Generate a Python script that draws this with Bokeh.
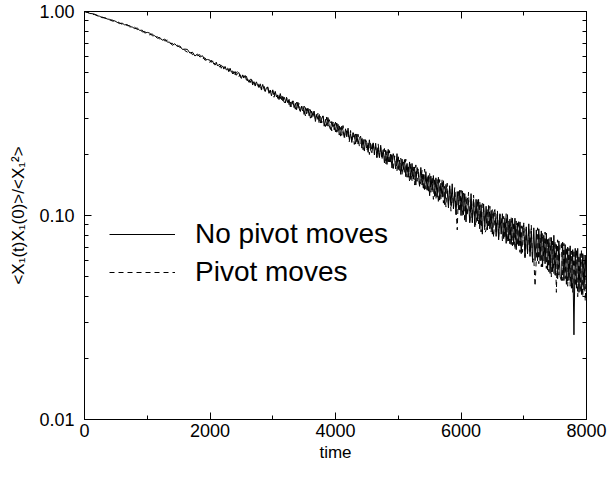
from bokeh.plotting import figure
from bokeh.models import Range1d, FixedTicker, LogAxis, LinearAxis, PrintfTickFormatter
from bokeh.embed import file_html
from bokeh.resources import INLINE

# sampling grid of the time axis: every 40 up to 2000, every 20 after
times = list(range(0, 2000, 40)) + list(range(2000, 8001, 20))

corr_no_pivot = [
    # 0 - 1960 (step 40)
    1.000, .994, .978, .976, .970, .953, .948, .933, .934, .919,
    .915, .898, .901, .885, .872, .877, .860, .863, .841, .840,
    .824, .830, .808, .810, .784, .790, .784, .760, .761, .740,
    .746, .723, .733, .708, .707, .683, .695, .673, .678, .652,
    .654, .652, .625, .632, .605, .619, .598, .607, .577, .582,
    # 2000 - 8000 (step 20)
    .577, .563, .573, .553, .555, .564, .541, .549, .550, .527, .541, .529, .538, .517, .523, .507, .527, .505, .511, .495,
    .508, .487, .497, .502, .480, .470, .488, .473, .486, .461, .467, .450, .465, .465, .436, .453, .437, .452, .433, .424,
    .442, .418, .439, .417, .405, .423, .425, .397, .410, .386, .409, .390, .406, .381, .390, .370, .396, .370, .383, .359,
    .358, .380, .357, .371, .341, .359, .365, .338, .355, .330, .359, .334, .324, .344, .338, .313, .338, .315, .336, .308,
    .330, .302, .318, .325, .289, .313, .296, .313, .284, .300, .308, .274, .296, .276, .302, .275, .264, .289, .271, .282,
    .257, .284, .258, .275, .245, .274, .261, .241, .266, .243, .268, .236, .252, .228, .255, .248, .224, .251, .224, .239,
    .245, .214, .236, .207, .235, .227, .204, .235, .209, .203, .227, .202, .226, .193, .214, .192, .221, .195, .210, .181,
    .209, .178, .211, .183, .200, .171, .201, .191, .169, .201, .168, .187, .159, .189, .168, .188, .155, .180, .154, .183,
    .150, .180, .151, .173, .141, .172, .160, .139, .172, .141, .159, .134, .164, .133, .157, .125, .156, .133, .157, .124,
    .153, .123, .154, .119, .144, .123, .148, .113, .142, .133, .109, .140, .112, .143, .108, .130, .101, .131, .107, .133,
    .100, .132, .101, .128, .093, .122, .117, .092, .128, .093, .120, .088, .120, .094, .120, .086, .113, .081, .114, .088,
    .111, .085, .112, .086, .106, .081, .103, .107, .079, .102, .076, .102, .081, .102, .077, .097, .073, .101, .075, .096,
    .072, .097, .072, .097, .068, .092, .071, .093, .065, .088, .090, .062, .088, .065, .091, .063, .084, .060, .087, .060,
    .085, .060, .086, .060, .084, .056, .080, .058, .082, .054, .077, .052, .078, .053, .080, .051, .072, .049, .075, .050,
    .048, .074, .048, .072, .046, .070, .048, .071, .044, .068, .026, .069, .044, .069, .042, .065, .041, .065, .043, .064,
    .043,
]

corr_pivot = [
    # 0 - 1960 (step 40)
    1.000, .989, .986, .971, .966, .960, .943, .940, .927, .926,
    .908, .909, .893, .893, .880, .865, .867, .853, .853, .834,
    .837, .816, .820, .794, .798, .782, .768, .777, .752, .754,
    .731, .738, .716, .725, .696, .699, .675, .685, .665, .668,
    .643, .632, .642, .614, .627, .607, .614, .587, .593, .566,
    # 2000 - 8000 (step 20)
    .564, .577, .561, .568, .546, .558, .562, .540, .534, .543, .549, .522, .534, .521, .532, .510, .517, .520, .494, .511,
    .489, .503, .506, .481, .490, .469, .489, .471, .480, .484, .453, .465, .448, .471, .444, .457, .431, .446, .449, .426,
    .439, .412, .430, .433, .408, .411, .427, .395, .412, .394, .413, .380, .398, .401, .375, .392, .374, .392, .360, .381,
    .355, .373, .379, .349, .363, .338, .364, .357, .332, .359, .333, .357, .323, .340, .321, .344, .308, .334, .315, .332,
    .300, .325, .303, .326, .294, .310, .317, .281, .307, .284, .307, .284, .273, .304, .274, .295, .284, .260, .287, .263,
    .287, .256, .280, .248, .270, .247, .276, .246, .239, .264, .256, .230, .261, .235, .253, .223, .251, .230, .250, .218,
    .218, .244, .210, .235, .236, .207, .229, .199, .230, .207, .230, .198, .217, .192, .225, .194, .215, .187, .207, .213,
    .178, .206, .179, .208, .181, .203, .166, .196, .189, .166, .198, .165, .191, .158, .183, .160, .189, .154, .177, .147,
    .180, .148, .173, .141, .177, .147, .170, .138, .147, .167, .133, .169, .135, .157, .129, .161, .130, .155, .120, .151,
    .120, .150, .115, .150, .121, .151, .115, .139, .110, .144, .113, .140, .105, .135, .108, .137, .108, .085, .131, .104,
    .133, .100, .129, .093, .125, .100, .130, .092, .120, .092, .126, .093, .089, .121, .091, .117, .083, .115, .109, .082,
    .085, .108, .087, .111, .083, .107, .078, .103, .083, .106, .078, .100, .101, .075, .099, .077, .102, .074, .094, .071,
    .098, .071, .093, .068, .094, .071, .095, .066, .089, .066, .092, .063, .086, .065, .087, .065, .090, .059, .062, .045,
    .061, .087, .058, .081, .056, .082, .060, .083, .055, .077, .053, .078, .050, .075, .052, .075, .042, .076, .051, .074,
    .073, .048, .073, .049, .070, .045, .069, .045, .067, .042, .068, .045, .068, .040, .064, .042, .068, .040, .064, .038,
    .058,
]

x_major = [0, 2000, 4000, 6000, 8000]
x_minor = [1000, 3000, 5000, 7000]
y_major = [0.01, 0.1, 1.0]
y_minor = [0.02, 0.03, 0.04, 0.05, 0.06, 0.07, 0.08, 0.09,
           0.2, 0.3, 0.4, 0.5, 0.6, 0.7, 0.8, 0.9]

FONT = "Liberation Sans"

p = figure(width=608, height=465, y_axis_type="log",
           x_range=Range1d(0, 8000), y_range=Range1d(0.01, 1.0),
           output_backend="svg", toolbar_location=None,
           min_border_left=84, min_border_right=22,
           min_border_top=11, min_border_bottom=46)
p.background_fill_color = "white"
p.border_fill_color = "white"
p.outline_line_color = "black"
p.outline_line_width = 1
p.xgrid.visible = False
p.ygrid.visible = False

p.line(times, corr_no_pivot, line_color="black", line_width=1, legend_label="No pivot moves")
p.line(times, corr_pivot, line_color="black", line_width=1, line_dash="5 4", legend_label="Pivot moves")


def style_axis(ax):
    ax.axis_line_color = "black"
    ax.major_tick_in = 7
    ax.major_tick_out = 0
    ax.minor_tick_in = 4
    ax.minor_tick_out = 0
    ax.major_tick_line_color = "black"
    ax.minor_tick_line_color = "black"
    ax.major_label_text_font = FONT
    ax.major_label_text_color = "black"
    ax.major_label_text_font_size = "18px"
    ax.axis_label_text_font = FONT
    ax.axis_label_text_font_style = "normal"
    ax.axis_label_text_color = "black"
    ax.axis_label_text_font_size = "17px"


def hide_labels(ax, ticks):
    ax.major_label_overrides = {t: "" for t in ticks}
    ax.major_label_text_font_size = "1px"
    ax.major_label_text_alpha = 0
    ax.major_label_standoff = 0


xax = p.xaxis[0]
xax.ticker = FixedTicker(ticks=x_major, minor_ticks=x_minor)
style_axis(xax)
xax.major_label_standoff = 4
xax.axis_label = "time"
xax.axis_label_standoff = 3

yax = p.yaxis[0]
yax.ticker = FixedTicker(ticks=y_major, minor_ticks=y_minor)
yax.formatter = PrintfTickFormatter(format="%.2f")
style_axis(yax)
yax.major_label_standoff = 10
yax.axis_label = "<X\u2081(t)X\u2081(0)>/<X\u2081\u00b2>"
yax.axis_label_standoff = 8

top = LinearAxis(ticker=FixedTicker(ticks=x_major, minor_ticks=x_minor))
style_axis(top)
hide_labels(top, x_major)
p.add_layout(top, "above")

right = LogAxis(ticker=FixedTicker(ticks=y_major, minor_ticks=y_minor))
style_axis(right)
hide_labels(right, y_major)
p.add_layout(right, "right")

lg = p.legend[0]
lg.location = (25, 130)
lg.background_fill_alpha = 0
lg.border_line_alpha = 0
lg.label_text_font = FONT
lg.label_text_font_size = "28px"
lg.label_text_color = "black"
lg.glyph_width = 66
lg.glyph_height = 34
lg.label_height = 34
lg.label_standoff = 20
lg.spacing = 4
lg.padding = 0
lg.margin = 0

open("out.html", "w").write(file_html(p, INLINE))
